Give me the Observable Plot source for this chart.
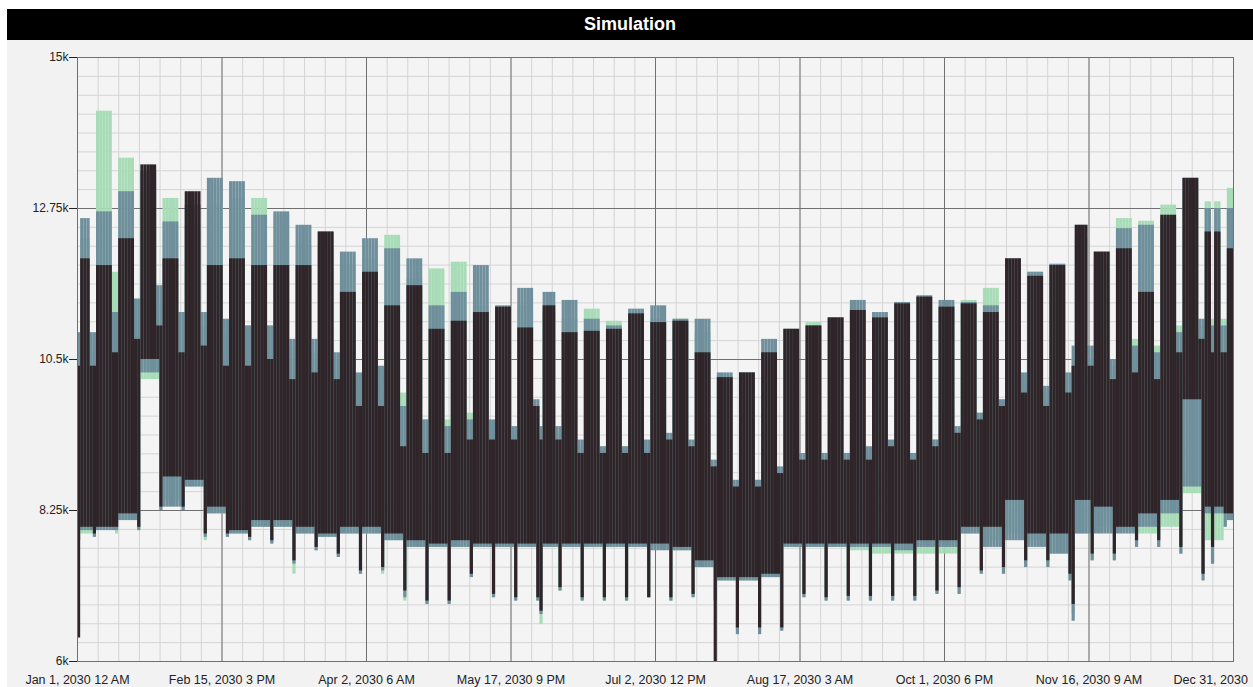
<!DOCTYPE html>
<html><head><meta charset="utf-8">
<script src="https://cdn.jsdelivr.net/npm/d3@7"></script>
<script src="https://cdn.jsdelivr.net/npm/@observablehq/plot@0.6"></script>
<style>
body{margin:0;background:#fff;font-family:"Liberation Sans",Arial,sans-serif;}
#title{position:absolute;left:7px;top:9px;width:1246px;height:31px;background:#000;color:#fff;font-weight:bold;font-size:18px;line-height:31px;text-align:center;}
#panel{position:absolute;left:7px;top:40px;width:1246px;height:647px;background:#f2f2f2;overflow:hidden;}
</style></head><body>
<div id="title">Simulation</div>
<div id="panel"></div>
<script>
// Values in thousands, one entry per calendar week (week 0 = Jan 1–6, weeks start Monday)
// Hi = weekday maximum, We = weekend maximum, Lo = weekday minimum, Wl = Sunday minimum
const seriesNames = ["green", "blue", "dark"];
const seriesColors = ["#a7dcb7", "#708f9c", "#2f2529"];

const darkHi = [12.0,11.9,12.3,13.4,12.0,13.0,11.9,12.0,11.9,11.9, 11.9,12.4,11.5,11.8,11.3,11.6,10.95,11.07,11.2,11.28, 10.97,11.3,10.9,10.92,10.95,11.18,11.05,11.07,10.6,10.23, 10.3,10.6,10.95,11.0,11.12,11.23,11.12,11.33,11.43,11.28, 11.33,11.2,12.0,11.74,11.9,12.5,12.1,12.15,11.5,12.65, 13.2,12.4,12.15];
const darkWe = [10.4,10.6,10.8,11.0,10.6,10.7,10.4,10.4,10.5,10.2, 10.3,10.2,9.8,9.8,9.2,9.1,9.1,9.3,9.3,9.3, 9.8,9.3,9.1,9.1,9.1,9.1,9.3,9.2,8.9,8.6, 8.6,8.8,9.0,9.0,9.0,9.0,9.2,9.0,9.2,9.4, 9.6,9.8,10.0,9.8,10.0,10.4,10.2,10.3,10.2,10.6, 10.8,10.6,10.4];
const darkLo = [8.0,8.0,8.2,10.5,8.75,8.7,8.3,7.95,8.1,8.1, 8.0,7.9,8.0,8.0,7.9,7.8,7.75,7.8,7.75,7.75, 7.75,7.75,7.75,7.75,7.75,7.75,7.75,7.7,7.5,7.25, 7.25,7.3,7.75,7.75,7.75,7.75,7.75,7.75,7.8,7.8, 8.0,8.0,8.4,7.9,7.9,8.4,8.3,8.0,8.2,8.4, 9.9,8.3,8.2];
const darkWl = [7.9,8.0,8.0,8.3,8.3,7.9,7.9,7.85,7.8,7.5, 7.7,7.6,7.35,7.4,7.05,6.9,6.9,7.3,7.0,6.95, 6.95,7.1,6.95,6.95,6.95,6.95,6.95,7.0,6.0,6.5, 6.5,6.5,7.0,6.95,6.97,6.97,6.97,6.97,7.05,7.1, 7.35,7.4,7.5,7.5,7.3,7.6,7.6,7.8,7.8,7.7, 7.3,8.2,8.2];

const blueHi = [12.6,12.7,13.0,13.3,12.55,12.8,13.2,13.15,12.65,12.7, 12.5,12.4,12.1,12.3,12.15,12.0,11.3,11.5,11.9,11.3, 11.56,11.5,11.38,11.1,11.0,11.25,11.3,11.1,11.1,10.3, 10.3,10.8,10.95,11.0,11.12,11.38,11.2,11.35,11.45,11.38, 11.35,11.3,12.0,11.8,11.92,12.5,12.1,12.45,12.5,12.6, 13.2,12.75,12.75];
const blueWe = [10.9,11.2,11.4,11.6,11.2,11.2,11.1,11.0,11.0,10.8, 10.8,10.6,10.3,10.4,9.8,9.6,9.5,9.6,9.6,9.5, 9.9,9.5,9.3,9.2,9.2,9.3,9.4,9.3,9.0,8.7, 8.7,8.9,9.1,9.1,9.1,9.2,9.3,9.1,9.3,9.5, 9.7,9.9,10.3,10.1,10.3,10.7,10.5,10.7,10.6,10.9, 11.1,11.0,10.8];
const blueLo = [7.95,7.95,8.1,10.3,8.3,8.6,8.2,7.9,8.0,8.0, 7.9,7.85,7.9,7.9,7.8,7.7,7.7,7.7,7.7,7.7, 7.7,7.7,7.7,7.7,7.7,7.7,7.65,7.65,7.4,7.2, 7.2,7.25,7.7,7.7,7.7,7.7,7.7,7.65,7.7,7.7, 7.9,7.7,7.8,7.7,7.6,7.9,7.9,7.9,8.0,8.2, 8.6,8.2,8.1];
const blueWl = [7.85,7.95,7.95,8.25,8.25,7.85,7.85,7.8,7.75,7.45, 7.65,7.55,7.3,7.35,6.95,6.85,6.85,7.25,6.95,6.9, 6.9,7.05,6.9,6.9,6.9,6.95,6.9,6.95,6.9,6.4, 6.4,6.45,6.95,6.9,6.9,6.9,6.9,6.9,7.0,7.0, 7.3,7.3,7.4,7.4,7.2,7.5,7.5,7.7,7.7,7.6, 7.2,8.0,8.1];

const greenHi = [12.3,14.2,13.5,13.0,12.9,12.5,12.8,12.9,12.9,12.65, 12.2,12.2,11.9,12.0,12.35,11.7,11.85,11.95,11.3,11.2, 11.3,11.2,11.1,11.25,11.07,11.1,11.1,11.1,10.9,10.25, 10.3,10.6,10.95,11.05,11.12,11.25,11.15,11.3,11.4,11.3, 11.38,11.56,11.9,11.8,11.85,12.3,12.0,12.6,12.56,12.8, 13.0,12.85,13.05];
const greenWe = [10.7,11.8,11.4,11.3,11.2,11.0,10.9,11.0,11.0,10.7, 10.6,10.5,10.2,10.3,10.0,9.6,9.6,9.7,9.5,9.4, 9.8,9.4,9.2,9.2,9.2,9.2,9.3,9.2,8.9,8.6, 8.7,8.8,9.0,9.1,9.1,9.1,9.2,9.1,9.3,9.4, 9.7,9.9,10.2,10.0,10.2,10.5,10.4,10.8,10.7,11.0, 11.0,11.1,10.9];
const greenLo = [7.9,8.0,8.1,10.2,8.4,8.6,8.2,7.9,8.0,8.0, 7.9,7.85,7.9,7.9,7.8,7.7,7.7,7.7,7.7,7.7, 7.7,7.7,7.7,7.7,7.7,7.7,7.7,7.65,7.4,7.2, 7.2,7.25,7.7,7.7,7.7,7.65,7.6,7.6,7.6,7.6, 7.9,7.8,7.9,7.8,7.6,7.9,8.0,7.95,7.9,8.0, 8.5,7.8,8.1];
const greenWl = [7.85,7.9,7.95,8.25,8.25,7.8,7.85,7.8,7.75,7.3, 7.65,7.55,7.3,7.3,6.9,6.85,6.85,7.25,6.95,6.9, 6.9,7.05,6.9,6.9,6.9,6.95,6.9,6.95,6.9,6.45, 6.45,6.5,6.95,6.9,6.9,6.9,6.9,6.9,7.0,7.0, 7.3,7.3,7.4,7.4,7.25,7.5,7.5,7.7,7.7,7.6, 7.3,8.0,8.1];

// Holidays (day of year) with their minima
const holidayDays = [0, 146, 314, 358];
const holidayLowDark = [6.35, 6.75, 6.85, 7.7];
const holidayLowBlue = [7.8, 6.7, 6.6, 7.45];
const holidayLowGreen = [7.8, 6.55, 6.7, 7.45];

// Axis ticks
const xTickLabels = ["Jan 1, 2030 12 AM","Feb 15, 2030 3 PM","Apr 2, 2030 6 AM","May 17, 2030 9 PM","Jul 2, 2030 12 PM","Aug 17, 2030 3 AM","Oct 1, 2030 6 PM","Nov 16, 2030 9 AM","Dec 31, 2030"];
const yTickValues = [6, 8.25, 10.5, 12.75, 15];
const yTickLabels = ["6k","8.25k","10.5k","12.75k","15k"];

const HOURS = 8759;
const arrays = {
  green: [greenHi, greenWe, greenLo, greenWl, holidayLowGreen],
  blue: [blueHi, blueWe, blueLo, blueWl, holidayLowBlue],
  dark: [darkHi, darkWe, darkLo, darkWl, holidayLowDark]
};
const rows = [];
for (const s of seriesNames) {
  const [hi, we, lo, wl, hol] = arrays[s];
  for (let d = 0; d < 365; d++) {
    const w = Math.floor((d + 1) / 7);
    const dow = (d + 2) % 7; // Jan 1 2030 = Tuesday; 0 = Sunday, 6 = Saturday
    const hIdx = holidayDays.indexOf(d);
    const weekend = dow === 0 || dow === 6 || hIdx >= 0;
    rows.push({
      series: s,
      x1: d * 24,
      x2: Math.min(d * 24 + 24, HOURS),
      hi: weekend ? we[w] : hi[w],
      lo: hIdx >= 0 ? hol[hIdx] : (dow === 0 ? wl[w] : lo[w])
    });
  }
}

const xTicks = d3.range(9).map(i => i * HOURS / 8);
const xMinor = d3.range(57).map(i => i * HOURS / 56);
const yMinor = d3.range(33).map(i => 6 + i * 0.28125);

const chart = Plot.plot({
  width: 1246, height: 647,
  marginLeft: 70, marginRight: 20, marginTop: 17, marginBottom: 26,
  x: {domain: [0, HOURS]},
  y: {domain: [6, 15]},
  style: {background: "transparent", fontFamily: "'Liberation Sans', Arial, sans-serif", fontSize: "12px", color: "#222"},
  marks: [
    Plot.frame({fill: "#f4f4f4"}),
    Plot.ruleX(xMinor, {stroke: "#d4d4d4", strokeOpacity: 1}),
    Plot.ruleY(yMinor, {stroke: "#d4d4d4", strokeOpacity: 1}),
    Plot.ruleX(xTicks, {stroke: "#707070", strokeOpacity: 1}),
    Plot.ruleY(yTickValues, {stroke: "#707070", strokeOpacity: 1}),
    ...seriesNames.map((s, i) => Plot.rect(rows.filter(r => r.series === s), {
      x1: "x1", x2: "x2", y1: "lo", y2: "hi", fill: seriesColors[i], clip: true
    })),
    Plot.frame({stroke: "#707070"}),
    Plot.axisX(xTicks.slice(0, 8), {tickSize: 0, tickPadding: 14, fontSize: 12.5, tickFormat: d => xTickLabels[Math.round(d / (HOURS / 8))]}),
    Plot.text([xTicks[8]], {x: d => d, frameAnchor: "bottom", lineAnchor: "top", dy: 14, dx: -60, textAnchor: "start", fontSize: 12.5, text: () => xTickLabels[8]}),
    Plot.axisY(yTickValues, {tickSize: 8, tickPadding: 1, fontSize: 12, tickFormat: d => yTickLabels[yTickValues.indexOf(d)]})
  ]
});
document.getElementById("panel").appendChild(chart);
</script>
</body></html>
